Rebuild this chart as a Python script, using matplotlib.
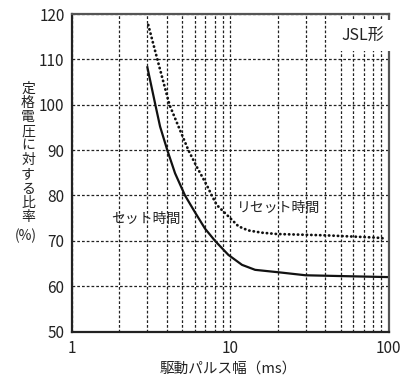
import matplotlib
matplotlib.use("Agg")
import matplotlib.pyplot as plt
from matplotlib.ticker import FixedLocator, NullFormatter, FixedFormatter

plt.rcParams['font.family'] = ['Noto Sans CJK JP', 'DejaVu Sans']

# Data
set_x = [3.0, 3.38, 3.62, 4.02, 4.5, 5.2, 6.01, 6.95, 8.04, 9.76, 11.9, 14.4, 21, 30, 54, 100]
set_y = [108.5, 100.0, 95.2, 90.0, 84.9, 80.0, 76.3, 72.7, 70.0, 66.9, 64.7, 63.6, 63.0, 62.4, 62.2, 62.0]

reset_x = [3.05, 3.48, 4.15, 4.54, 5.46, 6.17, 7.13, 7.67, 8.25, 9.76, 11.3, 13.0, 15.8, 19.7, 40.7, 84, 96]
reset_y = [117.6, 110.0, 100.0, 96.7, 90.0, 86.3, 82.3, 80.0, 77.9, 75.4, 73.2, 72.3, 71.8, 71.5, 71.2, 70.7, 70.5]

x_ticks = [1, 10, 100]
x_ticklabels = ["1", "10", "100"]
y_ticks = [50, 60, 70, 80, 90, 100, 110, 120]

ylabel_chars = "定格電圧に対する比率"
xlabel = "駆動パルス幅（ms）"
set_label = "セット時間"
reset_label = "リセット時間"
type_label = "JSL形"

fig = plt.figure(figsize=(4.17, 3.80), dpi=100)
ax = fig.add_axes([0.1715, 0.1276, 0.7602, 0.8354])
ax.set_xscale('log')
ax.set_xlim(1, 100)
ax.set_ylim(50, 120)

minor = [m * d for d in (1, 10) for m in range(2, 10)]
ax.xaxis.set_major_locator(FixedLocator(x_ticks))
ax.xaxis.set_major_formatter(FixedFormatter(x_ticklabels))
ax.xaxis.set_minor_locator(FixedLocator(minor))
ax.xaxis.set_minor_formatter(NullFormatter())
ax.set_yticks(y_ticks)

grid_kw = dict(color='#222222', linestyle=(0, (2.2, 1.6)), linewidth=0.9)
ax.grid(True, which='both', axis='x', **grid_kw)
ax.grid(True, which='major', axis='y', **grid_kw)

ax.tick_params(which='both', length=0)
ax.tick_params(axis='y', labelsize=11, pad=5, colors='#222222')
ax.tick_params(axis='x', labelsize=11, pad=6, colors='#222222')

for s in ('left', 'bottom'):
    ax.spines[s].set_color('#222222')
    ax.spines[s].set_linewidth(1.6)
for s in ('top', 'right'):
    ax.spines[s].set_color('#555555')
    ax.spines[s].set_linewidth(1.6)

ax.plot(set_x, set_y, color='#111111', linewidth=1.6, solid_capstyle='butt',
        solid_joinstyle='round')
ax.plot(reset_x, reset_y, color='#111111', linewidth=2.0,
        linestyle=(0, (0.1, 1.5)), dash_capstyle='round')

ax.text(2.95, 74.8, set_label, fontsize=10, ha='center', va='center', color='#222222')
ax.text(20.2, 77.2, reset_label, fontsize=10, ha='center', va='center', color='#222222')
ax.text(0.985, 0.96, type_label, transform=ax.transAxes, fontsize=11.5,
        ha='right', va='top', color='#222222',
        bbox=dict(facecolor='white', edgecolor='none', pad=5))

fig.text(28 / 417, 1 - 153 / 380, "\n".join(ylabel_chars), fontsize=10,
         ha='center', va='center', linespacing=1.03, color='#222222')
fig.text(26 / 417, 1 - 236 / 380, "(%)", fontsize=10,
         ha='center', va='center', color='#222222')
fig.text(228 / 417, 1 - 368.5 / 380, xlabel, fontsize=10.5,
         ha='center', va='center', color='#222222')

fig.savefig("out.png", dpi=100)
